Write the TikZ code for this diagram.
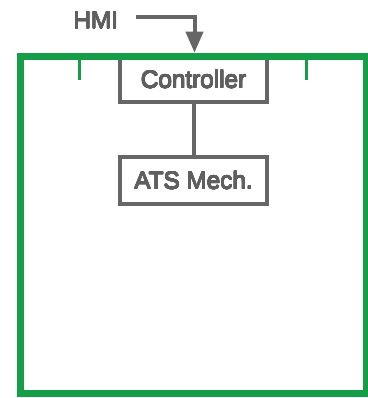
\documentclass[tikz,border=0pt]{standalone}
\usepackage{fontspec}
\setmainfont{Liberation Sans}
\usepackage[copies]{contour}
\contourlength{0.35pt}
\contournumber{16}
\usetikzlibrary{arrows.meta}
\definecolor{grn}{RGB}{22,157,72}
\definecolor{gry}{RGB}{102,102,102}
\definecolor{txt}{RGB}{95,95,95}
\newcommand{\heavy}[1]{\contour{txt}{#1}}
\begin{document}
\begin{tikzpicture}[x=1pt,y=-1pt,
  lbl/.style={font=\fontsize{24.3}{28}\selectfont, text=txt, inner sep=0pt},
  blk/.style={lbl, draw=gry, line width=4pt, fill=white, minimum width=146.7pt},
  link/.style={draw=gry, line width=4pt},
  tick/.style={draw=grn, line width=3pt}]
\useasboundingbox (0,0) rectangle (367,398);
\node[lbl] (hmi) at (95.8,20.5) {\heavy{HMI}};
\node[blk, minimum height=45.2pt] (ctrl) at (193.6,79.6) {\heavy{Controller}};
\node[blk, minimum height=47pt] (ats) at (193.6,180.5) {\heavy{ATS Mech.}};
\draw[link] (ctrl.south) -- (ats.north);
\draw[draw=grn, line width=6.5pt] (20.3,56.7) rectangle (366,393.7);
\coordinate (t1) at (79,60);
\coordinate (t1e) at (79,80);
\coordinate (t2) at (306,60);
\coordinate (t2e) at (306,80);
\draw[tick] (t1) -- (t1e);
\draw[tick] (t2) -- (t2e);
\coordinate (hmiout) at (136,16.8);
\coordinate (tipend) at (194.5,52.7);
\draw[link, -{Triangle[length=21pt,width=17pt]}] (hmiout) -| (tipend);
\end{tikzpicture}
\end{document}
